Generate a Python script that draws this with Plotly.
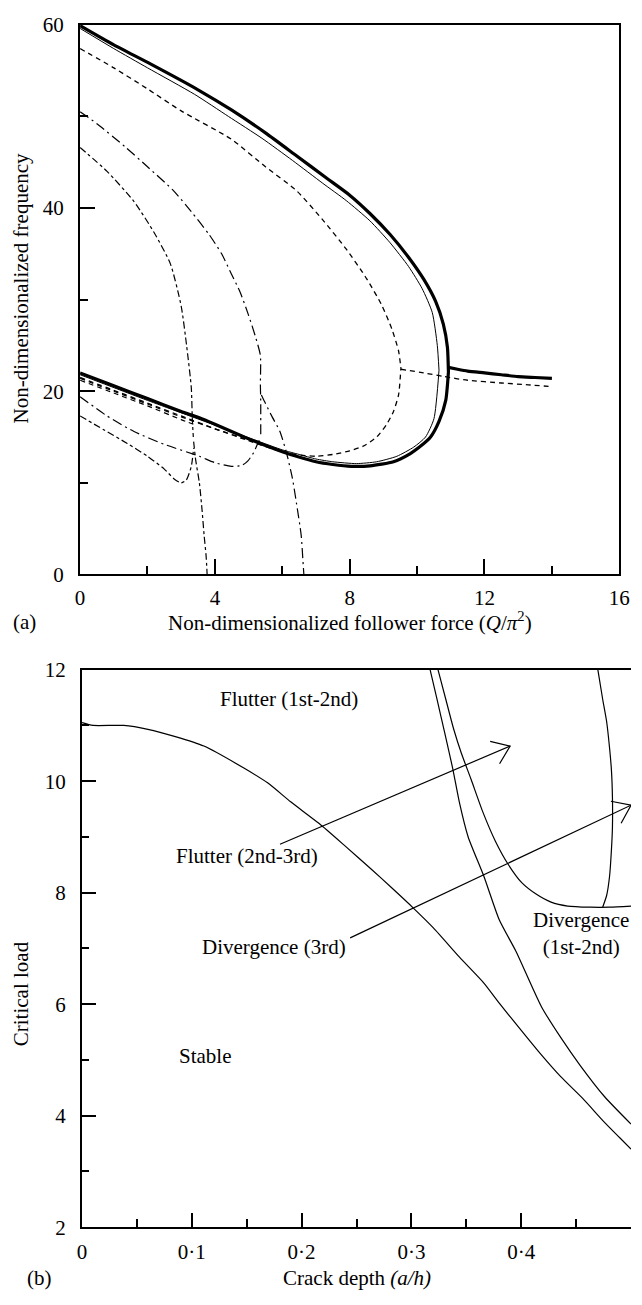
import math
import plotly.graph_objects as go

W, H = 642, 1305
FONT = "Liberation Serif"

# ---------------- Panel (a): frequency vs follower force ----------------
# thick solid (intact beam)
thick_low_q = [0, 1, 2, 3, 3.54, 4, 5, 5.27, 6, 6.42, 7, 7.5, 8.05, 8.6, 9.3, 9.8, 10.07, 10.4, 10.65, 10.85, 10.93]
thick_low_f = [22.0, 20.6, 19.2, 17.8, 17.1, 16.4, 14.8, 14.4, 13.4, 12.9, 12.3, 12.0, 11.8, 11.85, 12.3, 13.2, 13.9, 15.0, 16.7, 19.0, 22.1]
thick_up_q = [10.93, 10.9, 10.78, 10.55, 10.2, 9.75, 9.2, 8.6, 8.0, 7.3, 6.42, 5.5, 4.49, 3.5, 2.1, 1.0, 0]
thick_up_f = [22.1, 24.8, 27.3, 29.8, 32.2, 34.6, 37.1, 39.4, 41.4, 43.3, 45.7, 48.2, 50.7, 52.9, 55.7, 57.8, 59.9]
thick_tail_q = [10.93, 11.2, 11.5, 12.0, 12.5, 13.0, 13.5, 14.0]
thick_tail_f = [22.6, 22.4, 22.2, 22.0, 21.8, 21.6, 21.5, 21.4]

# thin solid
thin_low_q = [0, 2, 4, 6, 6.5, 7, 7.5, 8.2, 8.8, 9.4, 9.9, 10.25, 10.5, 10.65]
thin_low_f = [21.8, 19.0, 16.3, 13.6, 13.1, 12.6, 12.3, 12.1, 12.3, 12.9, 13.9, 15.0, 17.0, 22.3]
thin_up_q = [10.65, 10.6, 10.45, 10.15, 9.75, 9.2, 8.6, 7.9, 7.2, 6.3, 5.4, 4.4, 3.4, 2.0, 1.0, 0]
thin_up_f = [22.3, 25.0, 28.6, 31.2, 33.6, 36.2, 38.6, 40.8, 42.7, 45.2, 47.6, 50.0, 52.4, 55.3, 57.4, 59.6]

# dashed (shallow crack)
dash_up_q = [0, 1, 2, 3, 4.49, 5.5, 6.42, 7.2, 7.9, 8.5, 8.95, 9.25, 9.45, 9.52]
dash_up_f = [57.4, 55.3, 53.0, 50.6, 47.5, 44.5, 41.9, 38.7, 35.5, 32.3, 29.4, 26.8, 24.4, 22.5]
dash_low_q = [0, 1, 2, 3, 4, 5, 5.8, 6.4, 7.0, 7.5, 8.0, 8.4, 8.8, 9.1, 9.3, 9.45, 9.52]
dash_low_f = [21.5, 20.1, 18.7, 17.3, 15.9, 14.6, 13.6, 13.1, 12.9, 13.1, 13.5, 14.0, 15.0, 16.4, 17.8, 19.6, 22.5]
dash_tail_q = [9.52, 10.2, 10.8, 11.5, 12.5, 13.3, 14.0]
dash_tail_f = [22.4, 22.0, 21.6, 21.2, 20.9, 20.7, 20.5]

# dash-dot (medium crack)
dd_up_q = [0, 0.5, 1.33, 2.0, 2.77, 3.3, 3.83, 4.2, 4.49, 4.75, 4.98, 5.2, 5.35, 5.35, 5.36, 5.36]
dd_up_f = [50.5, 49.2, 46.7, 44.5, 41.9, 39.6, 37.1, 35.0, 32.8, 30.8, 28.5, 26.0, 23.9, 20.7, 18.9, 15.0]
dd_div_q = [5.38, 5.47, 5.7, 5.93, 6.13, 6.3, 6.42, 6.56, 6.62, 6.64]
dd_div_f = [19.6, 18.9, 17.2, 15.6, 13.2, 10.5, 7.8, 4.3, 1.1, 0.0]
dd_low_q = [0, 0.8, 1.6, 2.5, 3.54, 4.0, 4.49, 4.8, 4.98, 5.15, 5.27, 5.36]
dd_low_f = [19.4, 17.3, 15.6, 14.2, 12.9, 12.2, 11.8, 11.9, 12.4, 13.3, 14.3, 15.0]
dd_mid_q = [0, 1, 2, 3, 4, 5, 5.36]
dd_mid_f = [21.4, 20.0, 18.6, 17.2, 15.9, 14.7, 14.4]

# long-short dash (deep crack)
ls_up_q = [0, 0.8, 1.6, 2.2, 2.68, 3.0, 3.16, 3.3, 3.33, 3.36]
ls_up_f = [46.6, 44.0, 40.7, 37.3, 33.9, 29.3, 25.0, 20.4, 17.0, 15.0]
ls_div_q = [3.37, 3.43, 3.54, 3.62, 3.68, 3.74, 3.77]
ls_div_f = [14.5, 12.5, 10.0, 7.0, 4.3, 2.0, 0.0]
ls_low_q = [0, 0.7, 1.4, 2.0, 2.5, 2.8, 3.0, 3.15, 3.3, 3.37]
ls_low_f = [17.3, 15.8, 14.3, 12.9, 11.5, 10.4, 10.0, 10.3, 11.8, 13.8]
ls_mid_q = [0, 1, 2, 3, 3.36]
ls_mid_f = [21.2, 19.8, 18.4, 16.9, 16.4]

a_xticks = [0, 4, 8, 12, 16]
a_yticks = [0, 20, 40, 60]

# ---------------- Panel (b): critical load vs crack depth ----------------
bA_x = [0, 0.01, 0.038, 0.06, 0.085, 0.111, 0.147, 0.169, 0.19, 0.216, 0.24, 0.263, 0.283, 0.302, 0.32, 0.344, 0.366,
        0.38, 0.398, 0.418, 0.436, 0.456, 0.475, 0.49, 0.5]
bA_y = [11.05, 11.0, 11.0, 10.93, 10.8, 10.63, 10.24, 9.97, 9.63, 9.24, 8.83, 8.43, 8.07, 7.72, 7.37, 6.84, 6.38,
        6.02, 5.58, 5.1, 4.7, 4.31, 3.9, 3.6, 3.4]
bB_x = [0.317, 0.3233, 0.3304, 0.3375, 0.3437, 0.3517, 0.3659, 0.3801, 0.3952, 0.4183, 0.4361, 0.4538, 0.476, 0.5]
bB_y = [12.0, 11.47, 10.86, 10.24, 9.62, 9.0, 8.30, 7.51, 6.95, 5.96, 5.40, 4.90, 4.34, 3.85]
bC_x = [0.3242, 0.3313, 0.3384, 0.3455, 0.3544, 0.365, 0.3766, 0.3881, 0.4005, 0.4139, 0.4272, 0.4423, 0.4627, 0.4805, 0.5]
bC_y = [12.0, 11.47, 10.94, 10.50, 10.03, 9.45, 8.92, 8.51, 8.18, 7.97, 7.83, 7.76, 7.74, 7.74, 7.76]
bD_x = [0.4698, 0.4742, 0.4778, 0.4805, 0.4822, 0.4831, 0.4831, 0.4822, 0.4805, 0.4778, 0.4742]
bD_y = [12.0, 11.47, 11.07, 10.59, 10.19, 9.71, 9.18, 8.78, 8.30, 7.95, 7.74]

arrow_tail_x = [0.1803, 0.2442]
arrow_tail_y = [8.87, 7.19]
arrow_head_x = [0.3899, 0.5]
arrow_head_y = [10.63, 9.57]

b_labels = ["Flutter (1st-2nd)", "Flutter (2nd-3rd)", "Divergence (3rd)", "Divergence<br>(1st-2nd)", "Stable"]
b_label_x = [0.1883, 0.150, 0.175, 0.4547, 0.112]
b_label_y = [11.47, 8.65, 7.02, 7.27, 5.08]

b_xticks = [0, 0.1, 0.2, 0.3, 0.4]
b_xticktext = ["0", "0·1", "0·2", "0·3", "0·4"]
b_yticks = [2, 4, 6, 8, 10, 12]

# ---------------- layout geometry (pixels) ----------------
A_L, A_R, A_T, A_B = 77, 630, 13, 573
B_L, B_R, B_T, B_B = 79, 642, 670, 1238
A_XR, A_YR = [0, 16], [0, 60]
B_XR, B_YR = [0, 0.5], [2, 12]


def px(x):
    return x / W


def py(y):
    return 1 - y / H


fig = go.Figure()


def line(x, y, width, dash="solid", xa="x", ya="y"):
    fig.add_trace(go.Scatter(x=x, y=y, mode="lines", xaxis=xa, yaxis=ya, showlegend=False, hoverinfo="skip",
                             line=dict(color="black", width=width, dash=dash, shape="spline", smoothing=0.6)))


# panel (a)
DASH3 = "5px,4px"
DASH4 = "10px,4px,2px,4px"
DASH5 = "7px,3px,3px,3px"
line(thin_low_q, thin_low_f, 1.0)
line(thin_up_q, thin_up_f, 1.0)
line(dash_up_q, dash_up_f, 1.3, DASH3)
line(dash_low_q, dash_low_f, 1.3, DASH3)
line(dash_tail_q, dash_tail_f, 1.3, DASH3)
line(dd_up_q, dd_up_f, 1.2, DASH4)
line(dd_div_q, dd_div_f, 1.2, DASH4)
line(dd_low_q, dd_low_f, 1.2, DASH4)
line(dd_mid_q, dd_mid_f, 1.2, DASH3)
line(ls_up_q, ls_up_f, 1.2, DASH5)
line(ls_div_q, ls_div_f, 1.2, DASH5)
line(ls_low_q, ls_low_f, 1.2, DASH5)
line(ls_mid_q, ls_mid_f, 1.2, DASH3)
line(thick_low_q, thick_low_f, 3.2)
line(thick_up_q, thick_up_f, 3.2)
line(thick_tail_q, thick_tail_f, 3.2)

# panel (b)
for bx, by in [(bA_x, bA_y), (bB_x, bB_y), (bC_x, bC_y), (bD_x, bD_y)]:
    line(bx, by, 1.2, xa="x2", ya="y2")

# arrows: shaft + open V head, head drawn in pixel space then mapped back to data
sxb = (B_R - B_L) / (B_XR[1] - B_XR[0])
syb = (B_B - B_T) / (B_YR[1] - B_YR[0])
for tx, ty, hx, hy in zip(arrow_tail_x, arrow_tail_y, arrow_head_x, arrow_head_y):
    dxp = (hx - tx) * sxb
    dyp = (hy - ty) * syb
    ang = math.atan2(dyp, dxp)
    L, spread = 21, math.radians(36)
    bxs, bys = [], []
    for s in (+1, -1):
        a = ang + math.pi + s * spread
        bxs.append(hx + L * math.cos(a) / sxb)
        bys.append(hy + L * math.sin(a) / syb)
    fig.add_trace(go.Scatter(x=[tx, hx], y=[ty, hy], mode="lines", xaxis="x2", yaxis="y2", showlegend=False,
                             hoverinfo="skip", line=dict(color="black", width=1.2)))
    fig.add_trace(go.Scatter(x=[bxs[0], hx, bxs[1]], y=[bys[0], hy, bys[1]], mode="lines", xaxis="x2", yaxis="y2",
                             showlegend=False, hoverinfo="skip", line=dict(color="black", width=1.2)))

tickfont = dict(family=FONT, size=21, color="black")
common = dict(showgrid=False, zeroline=False, showline=True, linecolor="black", ticks="inside", tickcolor="black",
              tickfont=tickfont, fixedrange=True)

fig.update_layout(
    width=W, height=H, margin=dict(l=0, r=0, t=0, b=0), autosize=False,
    paper_bgcolor="white", plot_bgcolor="white",
    font=dict(family=FONT, size=21, color="black"),
    xaxis=dict(domain=[px(A_L), px(A_R)], range=A_XR, tickvals=a_xticks, ticklen=15, tickwidth=1.5,
               linewidth=2.2, mirror=True, anchor="y", ticklabelstandoff=3,
               minor=dict(ticks="inside", dtick=2, tick0=0, ticklen=8, tickwidth=1.5, tickcolor="black"), **common),
    yaxis=dict(domain=[py(A_B), py(A_T)], range=A_YR, tickvals=a_yticks, ticklen=15, tickwidth=1.5,
               linewidth=2.2, mirror=True, anchor="x", ticklabelstandoff=10,
               minor=dict(ticks="inside", dtick=10, tick0=0, ticklen=8, tickwidth=1.5, tickcolor="black"), **common),
    xaxis2=dict(domain=[px(B_L), px(B_R)], range=B_XR, tickvals=b_xticks, ticktext=b_xticktext, ticklen=14,
                tickwidth=1.5, linewidth=2, mirror=True, anchor="y2", ticklabelstandoff=5,
                minor=dict(ticks="inside", dtick=0.05, tick0=0, ticklen=8, tickwidth=1.5, tickcolor="black"), **common),
    yaxis2=dict(domain=[py(B_B), py(B_T)], range=B_YR, tickvals=b_yticks, ticklen=14, tickwidth=1.5,
                linewidth=2, anchor="x2", ticklabelstandoff=10,
                minor=dict(ticks="inside", dtick=1, tick0=0, ticklen=7, tickwidth=1.5, tickcolor="black"), **common),
)

ann_font = dict(family=FONT, size=21, color="black")
annotations = [
    dict(text="Non-dimensionalized frequency", x=px(16), y=py(282), textangle=-90),
    dict(text="Non-dimensionalized follower force (<i>Q</i>/<i>π</i><sup>2</sup>)", x=px(354), y=py(621)),
    dict(text="(a)", x=px(20), y=py(621)),
    dict(text="Critical load", x=px(16), y=py(1000), textangle=-90),
    dict(text="Crack depth <i>(a/h)</i>", x=px(361), y=py(1290)),
    dict(text="(b)", x=px(35), y=py(1290)),
]
for a in annotations:
    a.update(xref="paper", yref="paper", showarrow=False, font=ann_font, xanchor="center", yanchor="middle")
for t, lx, ly in zip(b_labels, b_label_x, b_label_y):
    annotations.append(dict(text=t, x=lx, y=ly, xref="x2", yref="y2", showarrow=False, font=ann_font,
                            xanchor="center", yanchor="middle"))
fig.update_layout(annotations=annotations)

fig.write_html("out.html")
